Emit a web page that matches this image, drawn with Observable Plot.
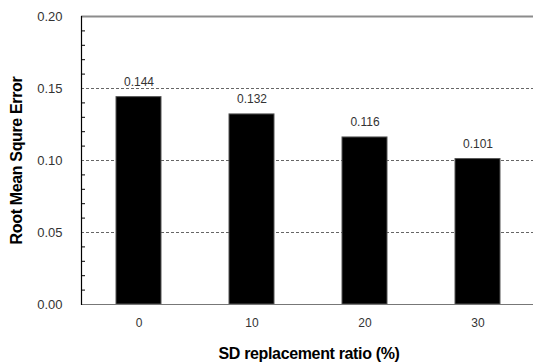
<!DOCTYPE html>
<html>
<head>
<meta charset="utf-8">
<script src="https://cdn.jsdelivr.net/npm/d3@7"></script>
<script src="https://cdn.jsdelivr.net/npm/@observablehq/plot@0.6"></script>
<style>
  html, body { margin: 0; padding: 0; background: #fff; }
  svg { font-family: "Liberation Sans", Arial, sans-serif; }
  .title text { letter-spacing: -0.35px; }
</style>
</head>
<body>
<div id="chart"></div>
<script>
const ratios = ["0", "10", "20", "30"];
const rmse = [0.144, 0.132, 0.116, 0.101];
const yMajorTicks = [0, 0.05, 0.10, 0.15, 0.20];
const yMinorTicks = [0.01, 0.02, 0.03, 0.04, 0.06, 0.07, 0.08, 0.09, 0.11, 0.12, 0.13, 0.14, 0.16, 0.17, 0.18, 0.19];
const gridValues = [0.05, 0.10, 0.15];
const xTitle = "SD replacement ratio (%)";
const yTitle = "Root Mean Squre Error";

const data = ratios.map((r, i) => ({ratio: r, rmse: rmse[i]}));

const chart = Plot.plot({
  width: 533,
  height: 363,
  marginLeft: 81,
  marginRight: -3,
  marginTop: 16,
  marginBottom: 59,
  style: {fontFamily: "Liberation Sans, Arial, sans-serif", background: "#fff", overflow: "visible"},
  x: {type: "band", domain: ratios, paddingInner: 0.6, paddingOuter: 0.3},
  y: {domain: [0, 0.2]},
  marks: [
    Plot.ruleY(gridValues, {stroke: "#666", strokeDasharray: "3,2", strokeWidth: 1}),
    Plot.barY(data, {x: "ratio", y: "rmse", fill: "#000", stroke: "#555", strokeWidth: 1}),
    Plot.ruleY([0.2], {stroke: "#8c8c8c", strokeWidth: 2}),
    Plot.ruleY([0], {stroke: "#777", strokeWidth: 1.2}),
    Plot.frame({anchor: "left", stroke: "#000", strokeWidth: 1.2}),
    Plot.axisY({ticks: yMinorTicks, tickSize: -4, tickFormat: () => "", label: null, stroke: "#000"}),
    Plot.axisY({ticks: yMajorTicks, tickSize: 0, tickPadding: 19, tickFormat: d3.format(".2f"), fontSize: 13, fill: "#333", label: null}),
    Plot.axisX({tickSize: 0, tickPadding: 14, fontSize: 12, fill: "#333", label: null}),
    Plot.text(data, {x: "ratio", y: "rmse", text: d => d.rmse.toFixed(3), dy: -15, fontSize: 12, fill: "#333", lineAnchor: "middle"}),
    Plot.text([xTitle], {frameAnchor: "bottom", dy: 49, fontSize: 16, fontWeight: "bold", fill: "#000", lineAnchor: "middle", className: "title"}),
    Plot.text([yTitle], {frameAnchor: "left", dx: -65, rotate: -90, fontSize: 16, fontWeight: "bold", fill: "#000", lineAnchor: "middle", textAnchor: "middle", className: "title"})
  ]
});
document.getElementById("chart").appendChild(chart);
</script>
</body>
</html>
